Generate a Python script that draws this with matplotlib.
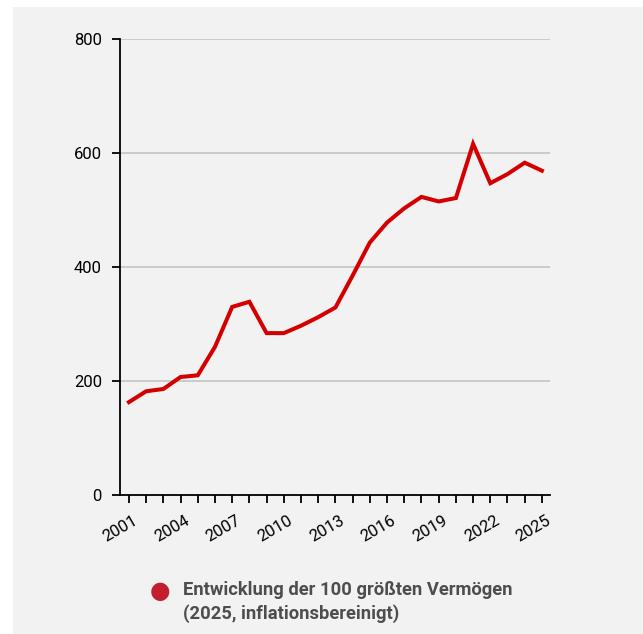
import matplotlib.pyplot as plt
from matplotlib.patches import Rectangle
from matplotlib.transforms import ScaledTranslation

plt.rcParams['font.family'] = ['Roboto', 'DejaVu Sans']

# Daten: Vermögen der 100 Reichsten (Mrd. Euro, inflationsbereinigt)
jahre = list(range(2001, 2026))
vermoegen = [163, 182, 186, 207, 210, 260, 330, 339, 284, 284, 297, 312, 329,
             385, 443, 478, 503, 523, 515, 521, 616, 547, 563, 583, 569]
y_ticks = [0, 200, 400, 600, 800]
x_ticks = list(range(2001, 2026, 3))
legende = "Entwicklung der 100 größten Vermögen\n(2025, inflationsbereinigt)"

fig = plt.figure(figsize=(6.43, 6.34), dpi=100)
fig.patch.set_facecolor("white")
fig.patches.append(Rectangle((13 / 643, 0), 1, 1 - 7 / 634, transform=fig.transFigure,
                             facecolor="#f2f2f2", edgecolor="none", zorder=-1))

ax = fig.add_axes([120 / 643, 1 - 495 / 634, 430 / 643, 456 / 634])
ax.set_facecolor("none")

# Gitterlinien
for y in y_ticks[1:]:
    ax.axhline(y, color="#c4c4c4", linewidth=1.2, zorder=1)

ax.plot(jahre, vermoegen, color="#d40000", linewidth=2.9, solid_joinstyle="miter", zorder=3)

ax.set_xlim(2000.48, 2025.47)
ax.set_ylim(0, 800)
ax.set_yticks(y_ticks)
ax.set_xticks(jahre)
ax.set_xticklabels([str(j) if j in x_ticks else "" for j in jahre],
                   rotation=30, ha="right", va="top", rotation_mode="anchor")

for s in ["top", "right"]:
    ax.spines[s].set_visible(False)
for s in ["left", "bottom"]:
    ax.spines[s].set_linewidth(1.3)
    ax.spines[s].set_color("black")

ax.tick_params(axis="both", colors="black", width=1.3, length=6, labelsize=12)
ax.tick_params(axis="x", pad=7)
ax.tick_params(axis="y", pad=7)

# Beschriftungen etwas nach rechts schieben
versatz = ScaledTranslation(4 / 100, 0, fig.dpi_scale_trans)
for lbl in ax.get_xticklabels():
    lbl.set_transform(lbl.get_transform() + versatz)

# Legende
fig.text(160 / 643, 1 - 591 / 634, "\u25cf", color="#c41e2d", fontsize=17,
         ha="center", va="center", family=["DejaVu Sans"])
fig.text(183 / 643, 1 - 602 / 634, legende, color="#4d4d4d", fontsize=13.2,
         fontweight="bold", ha="left", va="center", linespacing=1.3)

fig.savefig("out.png", dpi=100, facecolor=fig.get_facecolor())
